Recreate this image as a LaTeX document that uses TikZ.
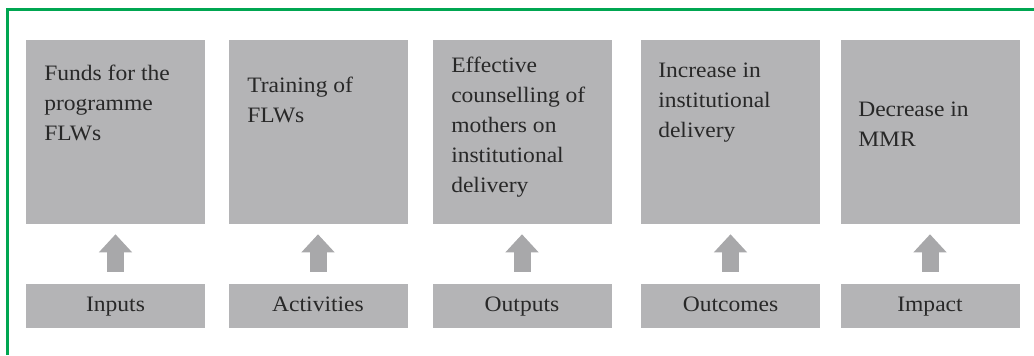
\documentclass[tikz,border=0pt]{standalone}
\usepackage{fontspec}
\setmainfont{Liberation Serif}[FakeStretch=1.07]
\usetikzlibrary{arrows.meta}

\definecolor{framegreen}{RGB}{0,166,81}
\definecolor{boxgray}{RGB}{180,180,182}
\definecolor{arrowgray}{RGB}{168,168,170}
\definecolor{textgray}{RGB}{40,40,40}

\tikzset{
  stage/.style={fill=boxgray,minimum width=134.25pt,minimum height=138pt,inner sep=0pt},
  level/.style={fill=boxgray,minimum width=134.25pt,minimum height=33pt,inner sep=0pt,
    text height=11pt,text depth=3.5pt,
    text=textgray,font=\fontsize{16.5}{22.5}\selectfont},
  stagetext/.style={anchor=north west,inner sep=0pt,align=left,text=textgray,
    font=\fontsize{16.5}{22.5}\selectfont},
  uparrow/.style={draw=arrowgray,line width=12.75pt,-{Triangle[width=24pt,length=13.5pt]},
    shorten <=9pt,shorten >=7.5pt}
}

\begin{document}
\begin{tikzpicture}[x=0.75pt,y=-0.75pt]
\useasboundingbox (0,0) rectangle (1034,355);

%FRAME
\draw[framegreen,line width=2.25pt] (7,355) -- (7,9) -- (1034,9);

%BOXES
% top row
\node[stage] (funds) at (115.5,132) {};
\node[stage] (training) at (318,132) {};
\node[stage] (counselling) at (522,132) {};
\node[stage] (increase) at (730.5,132) {};
\node[stage] (decrease) at (930,132) {};

% box texts
\node[stagetext] (fundstext) at (44,65) {Funds for the\\programme\\FLWs};
\node[stagetext] (trainingtext) at (247,77) {Training of\\FLWs};
\node[stagetext] (counsellingtext) at (451,57) {Effective\\counselling of\\mothers on\\institutional\\delivery};
\node[stagetext] (increasetext) at (658,63) {Increase in\\institutional\\delivery};
\node[stagetext] (decreasetext) at (858,102) {Decrease in\\MMR};

% bottom row
\node[level] (inputs) at (115.5,306) {Inputs};
\node[level] (activities) at (318,306) {Activities};
\node[level] (outputs) at (522,306) {Outputs};
\node[level] (outcomes) at (730.5,306) {Outcomes};
\node[level] (impact) at (930,306) {Impact};

%ARROWS
\draw[uparrow] (inputs) -- (funds);
\draw[uparrow] (activities) -- (training);
\draw[uparrow] (outputs) -- (counselling);
\draw[uparrow] (outcomes) -- (increase);
\draw[uparrow] (impact) -- (decrease);

\end{tikzpicture}
\end{document}
